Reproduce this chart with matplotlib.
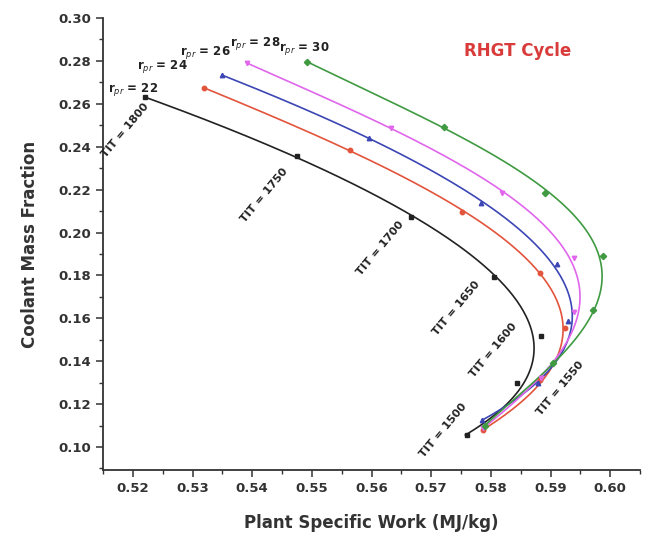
import numpy as np
import matplotlib.pyplot as plt
from matplotlib.ticker import MultipleLocator

# TIT points (1800 -> 1500) for each pressure ratio
tit = [1800, 1750, 1700, 1650, 1600, 1550, 1500]
rp = [22, 24, 26, 28, 30]

work_22 = [0.5220, 0.5475, 0.5666, 0.5806, 0.5884, 0.5844, 0.5760]
cmf_22 = [0.2630, 0.2356, 0.2072, 0.1793, 0.1517, 0.1298, 0.1056]
work_24 = [0.5319, 0.5564, 0.5752, 0.5883, 0.5925, 0.5883, 0.5787]
cmf_24 = [0.2674, 0.2385, 0.2096, 0.1811, 0.1554, 0.1312, 0.1079]
work_26 = [0.5349, 0.5596, 0.5784, 0.5911, 0.5930, 0.5879, 0.5785]
cmf_26 = [0.2734, 0.2441, 0.2138, 0.1853, 0.1587, 0.1298, 0.1126]
work_28 = [0.5391, 0.5633, 0.5819, 0.5940, 0.5940, 0.5884, 0.5787]
cmf_28 = [0.2790, 0.2487, 0.2184, 0.1881, 0.1629, 0.1322, 0.1089]
work_30 = [0.5492, 0.5722, 0.5891, 0.5988, 0.5972, 0.5904, 0.5790]
cmf_30 = [0.2795, 0.2492, 0.2184, 0.1890, 0.1639, 0.1392, 0.1100]

series = [
    (work_22, cmf_22, '#222222', 's'),
    (work_24, cmf_24, '#e2543c', 'o'),
    (work_26, cmf_26, '#3c46b4', '^'),
    (work_28, cmf_28, '#e066ec', 'v'),
    (work_30, cmf_30, '#3f9a42', 'D'),
]

fig = plt.figure(figsize=(6.57, 5.38), dpi=100)
ax = fig.add_axes([103 / 657, 1 - 470 / 538, 537 / 657, 452 / 538])

for w, c, col, mk in series:
    w = np.array(w)
    c = np.array(c)
    # smooth fitted curve (x as function of y), like the original's fit line
    coef = np.polyfit(c, w, 4)
    yy = np.linspace(c.min(), c.max(), 200)
    ax.plot(np.polyval(coef, yy), yy, color=col, lw=1.2, zorder=2)
    ax.plot(w, c, mk, color=col, ms=3.2, zorder=3)

# pressure ratio labels
rp_x = [0.5200, 0.5250, 0.5321, 0.5405, 0.5487]
rp_y = [0.2669, 0.2772, 0.2841, 0.2879, 0.2860]
for r, x, y in zip(rp, rp_x, rp_y):
    ax.text(x, y, r'r$_{pr}$ = %d' % r, fontsize=8.5, fontweight='bold',
            ha='center', va='center', color='#222222')

# TIT labels
tit_x = [0.5187, 0.5421, 0.5614, 0.5743, 0.5804, 0.5916, 0.5720]
tit_y = [0.2478, 0.2175, 0.1928, 0.1648, 0.1452, 0.1275, 0.1079]
for t, x, y in zip(tit, tit_x, tit_y):
    ax.text(x, y, 'TIT = %d' % t, fontsize=8, fontweight='bold',
            rotation=50, ha='center', va='center', color='#222222')

ax.text(0.5845, 0.2845, 'RHGT Cycle', color='#d93a3a', fontsize=12,
        fontweight='bold', ha='center', va='center')

ax.set_xlim(0.515, 0.605)
ax.set_ylim(0.0893, 0.30)
ax.xaxis.set_minor_locator(MultipleLocator(0.005))
ax.yaxis.set_minor_locator(MultipleLocator(0.01))
ax.set_xticks(np.arange(0.52, 0.6001, 0.01))
ax.set_yticks(np.arange(0.10, 0.3001, 0.02))
ax.xaxis.set_major_formatter(plt.FormatStrFormatter('%.2f'))
ax.yaxis.set_major_formatter(plt.FormatStrFormatter('%.2f'))
ax.spines['top'].set_visible(False)
ax.spines['right'].set_visible(False)
for s in ['left', 'bottom']:
    ax.spines[s].set_linewidth(1.3)
    ax.spines[s].set_color('#333333')
ax.tick_params(which='major', length=5, width=1.1, colors='#333333', labelsize=9.5)
ax.tick_params(which='minor', length=3, width=1.0, colors='#333333')
for lab in ax.get_xticklabels() + ax.get_yticklabels():
    lab.set_fontweight('bold')

ax.set_xlabel('Plant Specific Work (MJ/kg)', fontsize=12, fontweight='bold',
              color='#333333', labelpad=14)
ax.set_ylabel('Coolant Mass Fraction', fontsize=12, fontweight='bold',
              color='#333333', labelpad=14)

fig.savefig('out.png', dpi=100)
